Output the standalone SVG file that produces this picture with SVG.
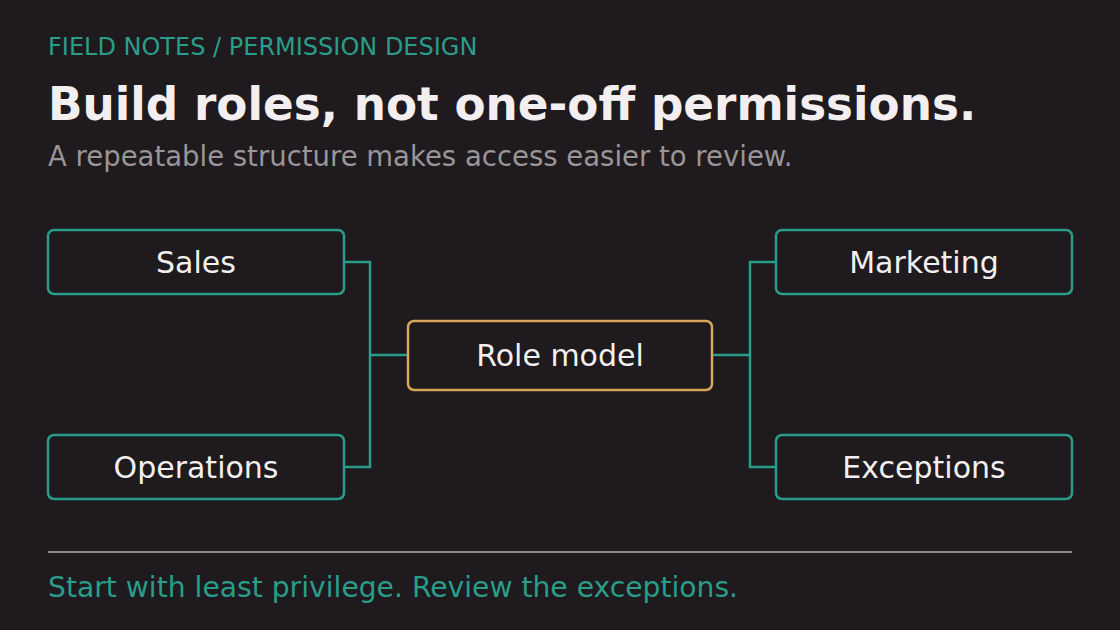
<svg xmlns="http://www.w3.org/2000/svg" width="1120" height="630" viewBox="0 0 1120 630">
<style>
text{font-family:"DejaVu Sans","Liberation Sans",sans-serif}
.box{fill:#1e1a1d;stroke:#2a9d8a;stroke-width:2.5}
.core{fill:#1e1a1d;stroke:#d9a55a;stroke-width:2.5}
.lbl{fill:#f3eff0;font-size:30px;text-anchor:middle}
.conn{fill:none;stroke:#2a9d8a;stroke-width:2.5}
</style>
<rect width="1120" height="630" fill="#1e1a1d"/>
<text x="48" y="55" font-size="24" fill="#2a9d8a">FIELD NOTES / PERMISSION DESIGN</text>
<text x="48" y="120" font-size="45.3" font-weight="bold" fill="#f3eff0">Build roles, not one-off permissions.</text>
<text x="48" y="166" font-size="27.5" fill="#9a9598">A repeatable structure makes access easier to review.</text>
<g id="connectors">
<path class="conn" d="M344 262H370V467H344M370 355H408"/>
<path class="conn" d="M712 355H750M776 262H750V467H776"/>
</g>
<g id="sales"><rect class="box" x="48" y="230" width="296" height="64" rx="6"/><text class="lbl" x="196" y="273">Sales</text></g>
<g id="operations"><rect class="box" x="48" y="435" width="296" height="64" rx="6"/><text class="lbl" x="196" y="478">Operations</text></g>
<g id="role-model"><rect class="core" x="408" y="321" width="304" height="69" rx="6"/><text class="lbl" x="560" y="366">Role model</text></g>
<g id="marketing"><rect class="box" x="776" y="230" width="296" height="64" rx="6"/><text class="lbl" x="924" y="273">Marketing</text></g>
<g id="exceptions"><rect class="box" x="776" y="435" width="296" height="64" rx="6"/><text class="lbl" x="924" y="478">Exceptions</text></g>
<line x1="48" y1="552" x2="1072" y2="552" stroke="#8c8789" stroke-width="2"/>
<text x="48" y="597" font-size="28.2" fill="#2a9d8a">Start with least privilege. Review the exceptions.</text>
</svg>
